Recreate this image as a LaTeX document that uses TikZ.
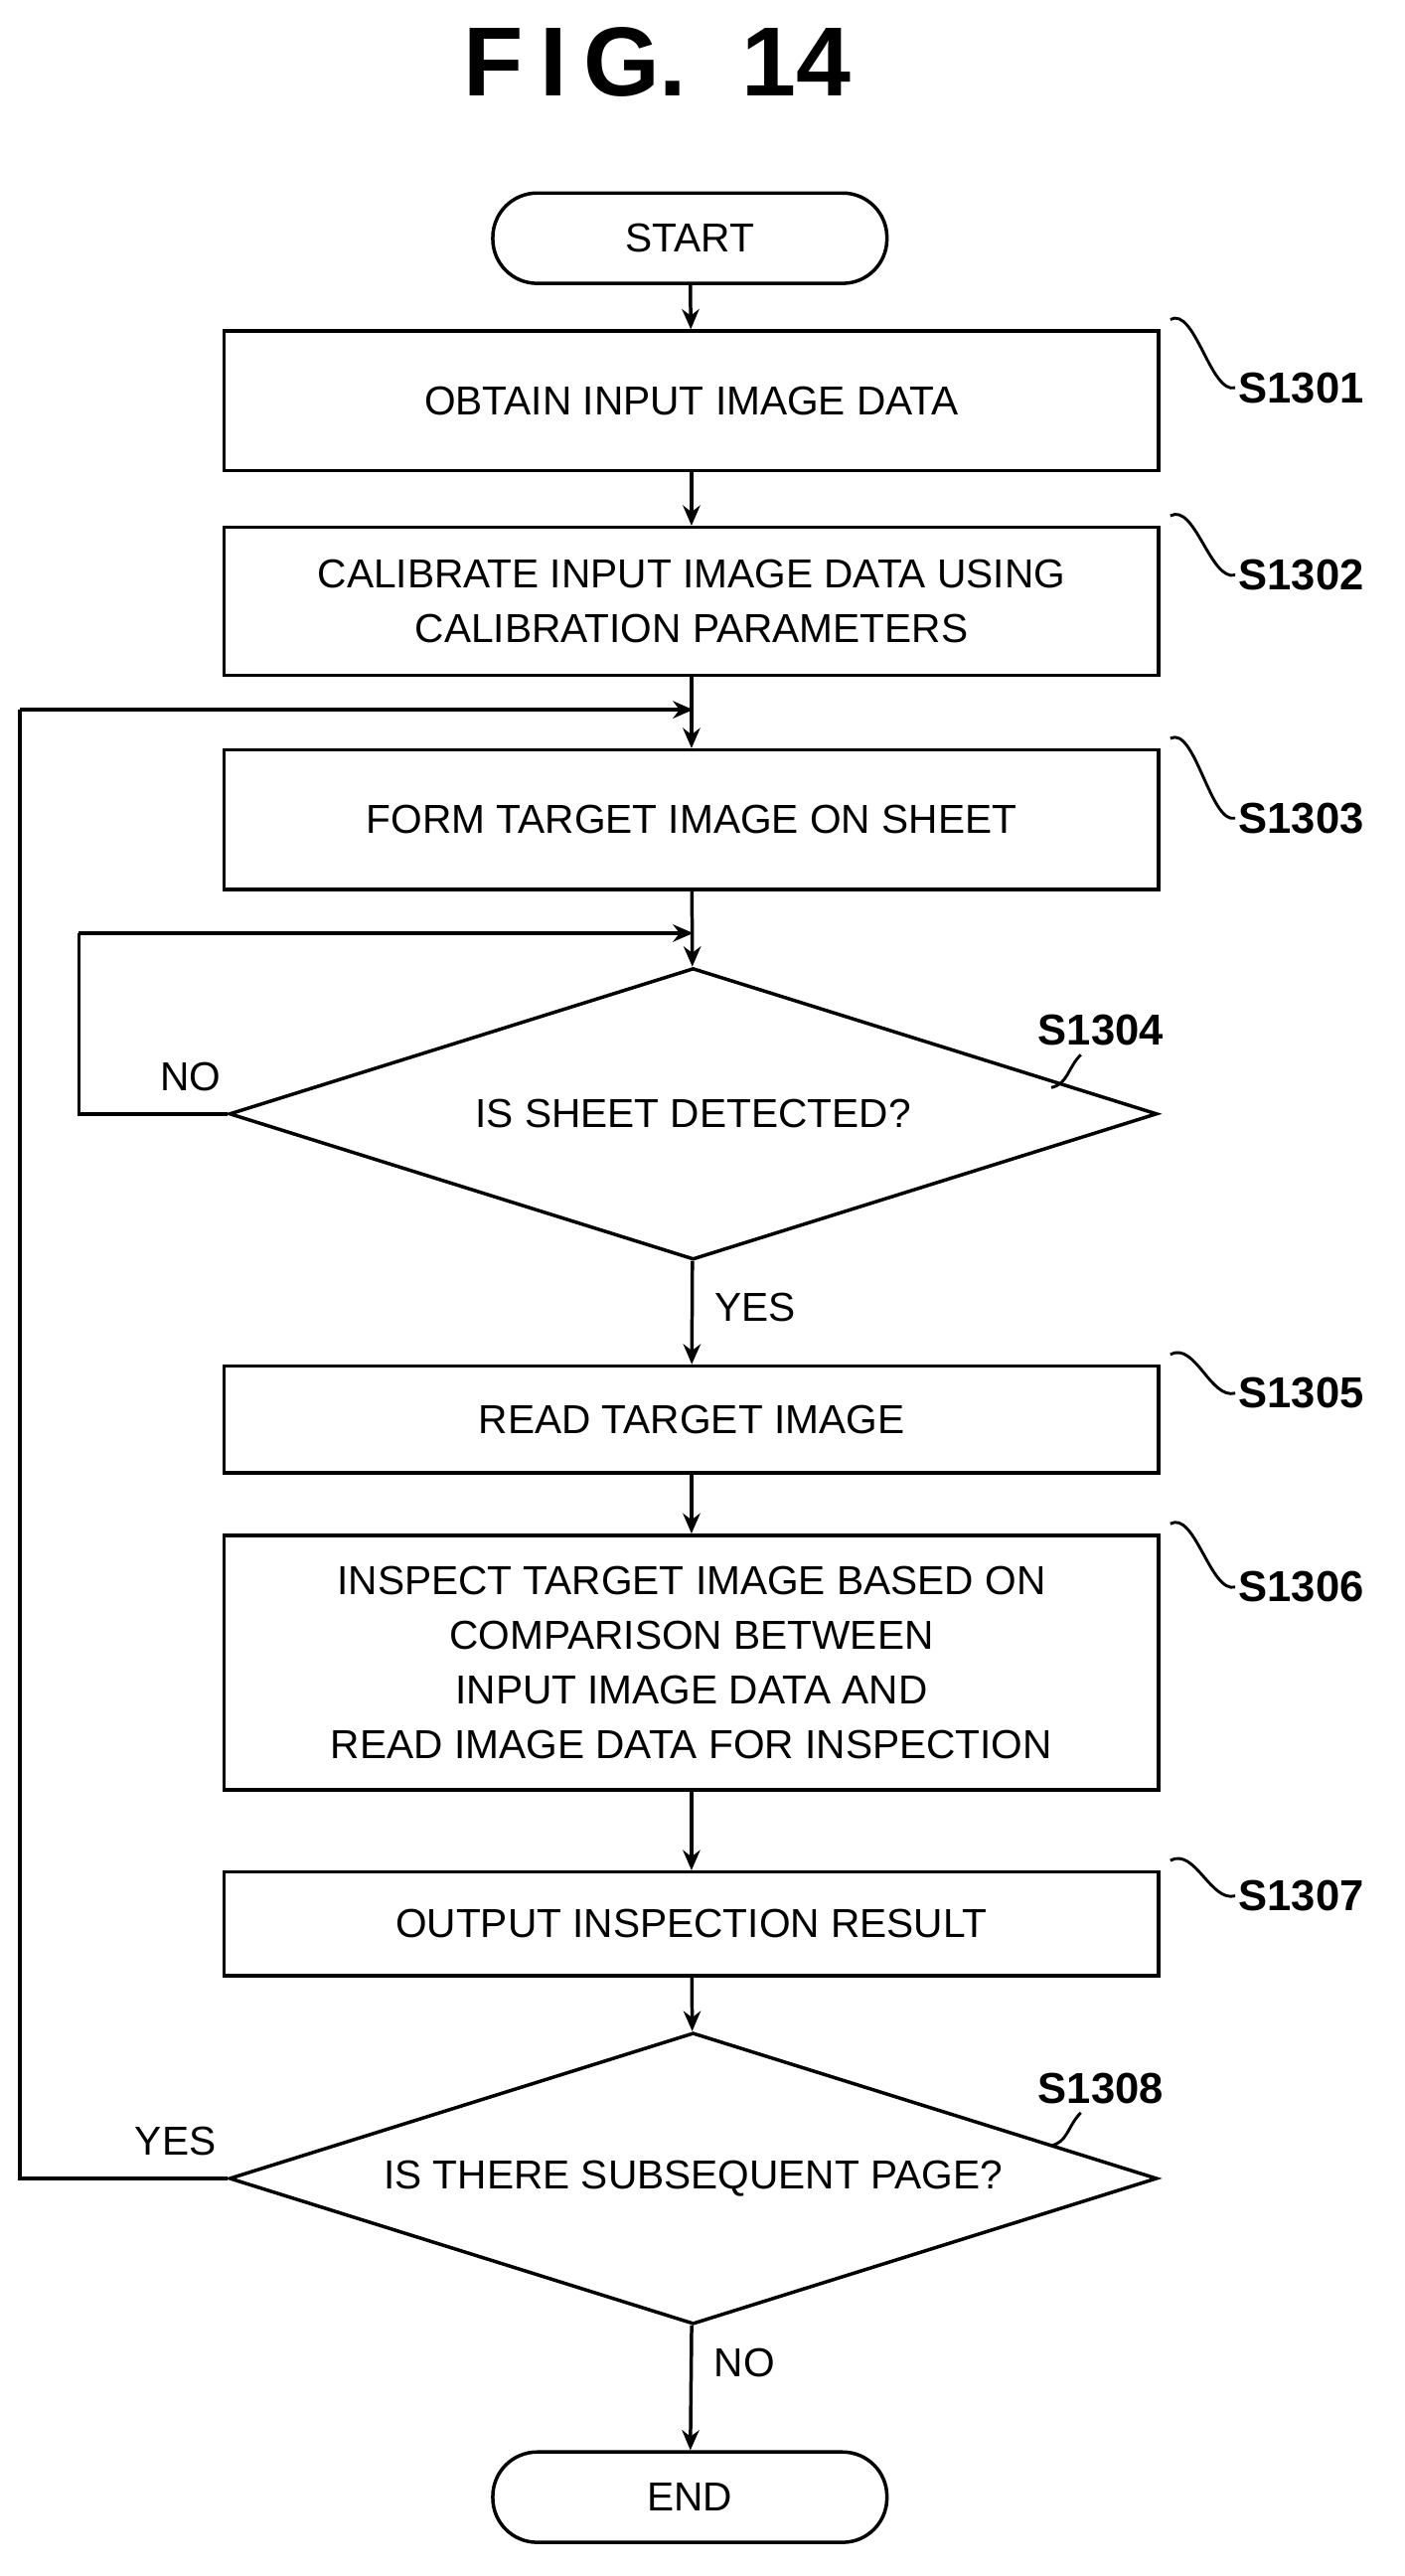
\documentclass[tikz,border=0pt]{standalone}
\usepackage{fontspec}
\setmainfont{Liberation Sans}
\usetikzlibrary{shapes.geometric,arrows.meta}
\begin{document}
\begin{tikzpicture}[x=0.02cm,y=-0.02cm,
  every node/.style={font=\fontsize{14}{19}\selectfont},
  box/.style={draw,line width=1.2pt,minimum width=11.38cm,align=center,inner sep=0pt},
  term/.style={draw,line width=1.2pt,rounded corners=0.54cm,minimum width=4.8cm,minimum height=1.1cm},
  dia/.style={draw,line width=1.2pt,diamond,aspect=3.2,minimum width=11.3cm,minimum height=3.55cm,inner sep=0pt},
  ln/.style={line width=1.2pt},
  arr/.style={ln,-{Stealth[length=7pt,width=6pt]}},
  lab/.style={font=\fontsize{15}{19}\selectfont\bfseries,anchor=west,inner sep=1pt},
  sq/.style={line width=1pt}]
\useasboundingbox (0,0) rectangle (855,1568);
\node[font=\fontsize{34}{36}\selectfont\bfseries] (title) at (400,38) {F\,I\,G.\ \ 14};
\node[term] (start) at (420,145) {START};
\node[box,minimum height=1.7cm] (b1) at (421,244) {OBTAIN INPUT IMAGE DATA};
\node[box,minimum height=1.8cm] (b2) at (421,366) {CALIBRATE INPUT IMAGE DATA USING\\CALIBRATION PARAMETERS};
\node[box,minimum height=1.7cm] (b3) at (421,499) {FORM TARGET IMAGE ON SHEET};
\node[dia] (d1) at (422,678) {IS SHEET DETECTED?};
\node[box,minimum height=1.3cm] (b5) at (421,864) {READ TARGET IMAGE};
\node[box,minimum height=3.1cm] (b6) at (421,1012) {INSPECT TARGET IMAGE BASED ON\\COMPARISON BETWEEN\\INPUT IMAGE DATA AND\\READ IMAGE DATA FOR INSPECTION};
\node[box,minimum height=1.26cm] (b7) at (421,1171) {OUTPUT INSPECTION RESULT};
\node[dia] (d2) at (422,1326) {IS THERE SUBSEQUENT PAGE?};
\node[term] (end) at (420,1520) {END};

\coordinate (m3) at (422,432);
\coordinate (m4) at (422,568);
\coordinate (l4) at (48,678);
\coordinate (l4u) at (48,568);
\coordinate (l8) at (12,1326);
\coordinate (l8u) at (12,432);

\draw[arr] (start) -- (b1);
\draw[arr] (b1) -- (b2);
\draw[arr] (b2) -- (b3);
\draw[arr] (b3) -- (d1);
\draw[arr] (d1) -- node[pos=0.45,right,xshift=4pt]{YES} (b5);
\draw[arr] (b5) -- (b6);
\draw[arr] (b6) -- (b7);
\draw[arr] (b7) -- (d2);
\draw[arr] (d2) -- node[pos=0.3,right,xshift=4pt]{NO} (end);
\draw[ln] (d1.west) -- node[above,pos=0.25,yshift=4pt]{NO} (l4) -- (l4u);
\draw[arr] (l4u) -- (m4);
\draw[ln] (d2.west) -- node[above,pos=0.25,yshift=4pt]{YES} (l8) -- (l8u);
\draw[arr] (l8u) -- (m3);

\foreach \n/\t/\y in {b1/S1301/236,b2/S1302/350,b3/S1303/498,b5/S1305/848,b6/S1306/966,b7/S1307/1154}{
  \node[lab] (L\n) at (752,\y) {\t};
  \draw[sq] (\n.north east) ++(6,-6) .. controls +(15,-8) and +(-15,4) .. (L\n.west);
}
\node[lab] (Ld1) at (630,627) {S1304};
\draw[sq] (658,642) .. controls (650,650) and (650,660) .. (640,662);
\node[lab] (Ld2) at (630,1271) {S1308};
\draw[sq] (658,1286) .. controls (650,1294) and (650,1304) .. (640,1306);
\end{tikzpicture}
\end{document}
